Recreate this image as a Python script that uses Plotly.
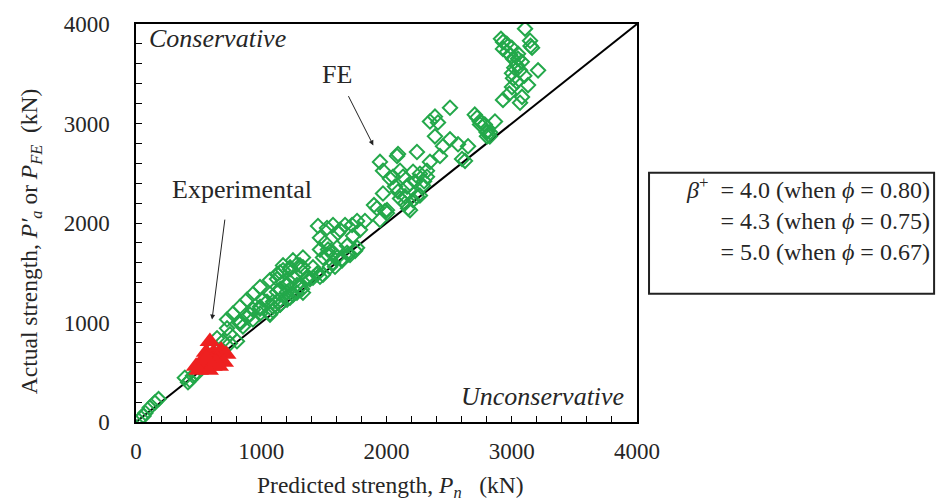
import plotly.graph_objects as go

# ---------------- data ----------------
# FE results (predicted strength Pn, actual strength P_FE), kN
fe_pred = [
    40, 60, 75, 110, 150, 180,
    390, 415, 430, 455, 490,
    727, 830, 910, 990, 1046, 750, 806, 695, 647, 615, 750, 1070,
    830, 886, 934, 990, 1014, 1070, 1150, 1206, 1253, 1365, 1333,
    727, 774, 830, 886, 934, 990, 1070, 1126, 1174, 1230, 1285, 1333,
    854, 934, 990, 1094, 1150, 1253, 1309, 1413, 1445,
    1253, 1309, 1333, 1365, 1230, 1174, 1150, 1126, 1174, 1230, 1285, 1325, 1333, 1253,
    1206, 1150, 1126, 1094, 1150, 1206, 1285, 1230, 1094, 1150, 1070, 1389, 1469,
    1453, 1525, 1573, 1629, 1669, 1725, 1765, 1828, 1788, 1733, 1469, 1509, 1533, 1573,
    1605, 1645, 1693, 1749, 1765, 1685, 1605, 1525, 1469, 1493, 1573, 1645, 1709, 1589,
    1549, 1453, 1493, 1413, 1613, 1685,
    1924, 1988, 1948, 2004, 1900,
    1948, 1972, 2052, 2108, 2132, 2212, 2267, 2323, 1972, 2004, 2108, 2148, 2164, 2188,
    2243, 2228, 2188, 2028, 2068, 2092, 2148, 2172, 2212, 2267, 2291, 2323, 2084, 2243,
    2092, 2427, 2347, 2300,
    2387, 2451, 2507, 2571, 2651, 2627, 2603, 2507, 2387, 2347, 2411, 2723, 2747, 2802,
    2866, 2802, 2826, 2705, 2745, 2785,
    3106, 2914, 2930, 3146, 3162, 2930, 2962, 2986, 3010, 3042, 3066, 3002, 3010, 3210,
    3130, 3002, 2930, 3066, 3082, 2800, 2825, 3050, 3080, 3020, 3100, 3040, 2980, 3150,
    2960, 3000, 3050,
]
fe_actual = [
    40, 60, 90, 145, 195, 230,
    445, 400, 420, 465, 495,
    941, 1010, 1079, 1139, 1208, 881, 812, 812, 842, 743, 790, 1079,
    990, 1059, 1129, 1158, 1228, 1287, 1327, 1386, 1455, 1455, 1554,
    1030, 1089, 1158, 1228, 1287, 1356, 1426, 1485, 1525, 1554, 1584, 1653,
    960, 1030, 1089, 1158, 1228, 1287, 1356, 1554, 1485,
    1624, 1574, 1505, 1436, 1535, 1574, 1505, 1436, 1406, 1406, 1376, 1337, 1300, 1277,
    1307, 1337, 1307, 1208, 1178, 1230, 1300, 1250, 1120, 1180, 1090, 1436, 1460,
    1970, 1950, 1980, 1931, 1980, 1980, 2020, 2020, 1931, 1871, 1851, 1802, 1733, 1703,
    1653, 1624, 1683, 1720, 1752, 1772, 1752, 1683, 1733, 1653, 1600, 1640, 1680, 1560,
    1560, 1500, 1480, 1450, 1901, 1700,
    2148, 2119, 2030, 2099, 2180,
    2614, 2525, 2465, 2525, 2465, 2515, 2495, 2525, 2297, 2129, 2247, 2198, 2366, 2129,
    2267, 2416, 2396, 2445, 2366, 2317, 2267, 2148, 2228, 2277, 2376, 2465, 2673, 2713,
    2693, 2673, 2614, 2420,
    2871, 2772, 2841, 2792, 2772, 2624, 2643, 3158, 3069, 3020, 3010, 3059, 2990, 2921,
    3020, 2871, 2911, 3089, 3020, 2990,
    3953, 3851, 3820, 3832, 3762, 3750, 3720, 3690, 3650, 3584, 3534, 3505, 3455, 3534,
    3386, 3366, 3237, 3208, 3267, 2911, 2871, 3700, 3620, 3560, 3480, 3420, 3300, 3780,
    3800, 3760, 3650,
]

# Experimental results (predicted strength Pn, actual strength P'a), kN
exp_pred = [590, 560, 620, 680, 720, 530, 600, 650, 700, 480, 540, 610, 660, 580, 500, 640, 560]
exp_actual = [810, 700, 700, 720, 680, 620, 620, 640, 600, 560, 560, 560, 560, 520, 520, 600, 640]

# 1:1 reference line
line_x = [0, 4000]
line_y = [0, 4000]

# axis ticks
major_step = 1000
minor_step = 200

x_title = "Predicted strength, <i>P<sub>n</sub></i>\u00a0\u00a0 (kN)"
y_title = "Actual strength, <i>P′<sub>a</sub></i> or <i>P<sub>FE</sub></i>\u00a0 (kN)"

legend_lines = [
    "<i>β</i><sup>+</sup>\u00a0 = 4.0 (when <i>ϕ</i> = 0.80)",
    "= 4.3 (when <i>ϕ</i> = 0.75)",
    "= 5.0 (when <i>ϕ</i> = 0.67)",
]

# ---------------- figure ----------------
SERIF = "Liberation Serif, Times New Roman, serif"
TXT = "#262626"

fig = go.Figure()

fig.add_trace(go.Scatter(
    x=line_x, y=line_y, mode="lines",
    line=dict(color="black", width=2), hoverinfo="skip", showlegend=False))

fig.add_trace(go.Scatter(
    x=fe_pred, y=fe_actual, mode="markers",
    marker=dict(symbol="diamond-open", size=11, color="#23a84a",
                line=dict(color="#23a84a", width=2)),
    showlegend=False, name="FE"))

fig.add_trace(go.Scatter(
    x=exp_pred, y=exp_actual, mode="markers",
    marker=dict(symbol="triangle-up", size=18, color="#ee2020",
                line=dict(width=0)),
    showlegend=False, name="Experimental"))

axis_common = dict(
    range=[0, 4000], tick0=0, dtick=major_step,
    ticks="inside", ticklen=6, tickwidth=1.3, tickcolor="black",
    minor=dict(dtick=minor_step, ticks="inside", ticklen=6, tickwidth=1.3,
               tickcolor="black", showgrid=False),
    showline=True, linecolor="black", linewidth=1.5, mirror=True,
    showgrid=False, zeroline=False,
    tickfont=dict(family=SERIF, size=23, color=TXT),
)

fig.update_xaxes(**axis_common, ticklabelstandoff=8)
fig.update_yaxes(**axis_common, ticklabelstandoff=20)

annotations = [
    dict(xref="paper", yref="paper", x=0.508, y=-0.163, text=x_title, showarrow=False,
         xanchor="center", yanchor="middle", font=dict(family=SERIF, size=23.5, color=TXT)),
    dict(xref="paper", yref="paper", x=-0.209, y=0.455, text=y_title, showarrow=False,
         textangle=-90, xanchor="center", yanchor="middle",
         font=dict(family=SERIF, size=23.5, color=TXT)),
    dict(x=88, y=3850, text="<i>Conservative</i>", showarrow=False, xanchor="left",
         yanchor="middle", font=dict(family=SERIF, size=26, color=TXT)),
    dict(x=3915, y=260, text="<i>Unconservative</i>", showarrow=False, xanchor="right",
         yanchor="middle", font=dict(family=SERIF, size=26, color=TXT)),
    dict(x=1895, y=2780, ax=1690, ay=3290, axref="x", ayref="y", text="", showarrow=True,
         arrowhead=2, arrowsize=1, arrowwidth=1, arrowcolor="#222"),
    dict(x=1605, y=3490, text="FE", showarrow=False, xanchor="center", yanchor="middle",
         font=dict(family=SERIF, size=26, color=TXT)),
    dict(x=607, y=1030, ax=711, ay=2049, axref="x", ayref="y", text="", showarrow=True,
         arrowhead=2, arrowsize=1, arrowwidth=1, arrowcolor="#222"),
    dict(x=846, y=2336, text="Experimental", showarrow=False, xanchor="center",
         yanchor="middle", font=dict(family=SERIF, size=26, color=TXT)),
    dict(xref="paper", yref="paper", x=1.588, y=0.509, text="<br>".join(legend_lines),
         showarrow=False, xanchor="right", yanchor="middle", align="right",
         font=dict(family=SERIF, size=24, color=TXT)),
]

fig.update_layout(
    width=937, height=502,
    margin=dict(l=136, r=300, t=18, b=80),
    paper_bgcolor="white", plot_bgcolor="white",
    annotations=annotations,
    shapes=[dict(type="rect", xref="paper", yref="paper", x0=1.024, x1=1.593,
                 y0=0.322, y1=0.626, line=dict(color="#222", width=2),
                 fillcolor="rgba(0,0,0,0)")],
)

fig.write_html("out.html")
